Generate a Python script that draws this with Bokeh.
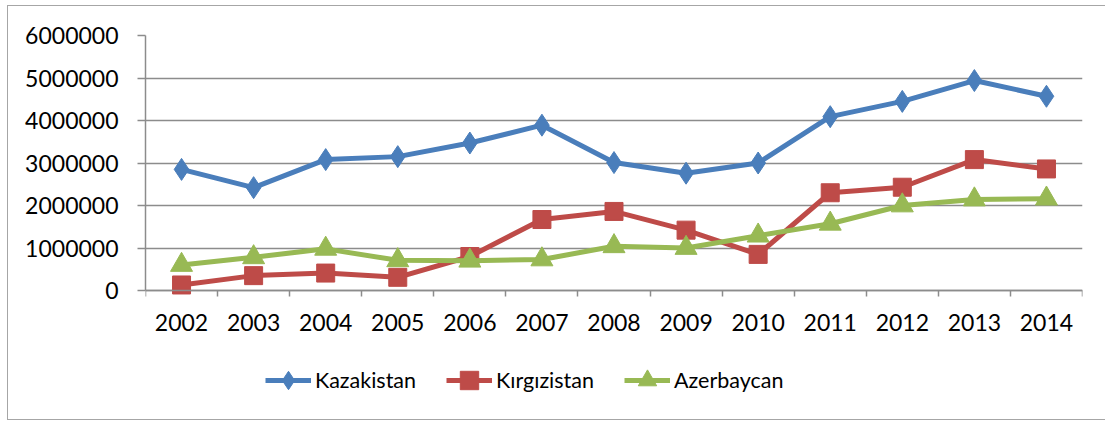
from bokeh.plotting import figure
from bokeh.models import FixedTicker, Legend, LegendItem, Range1d, NumeralTickFormatter, LinearAxis
from bokeh.embed import file_html
from bokeh.resources import INLINE

years = [2002, 2003, 2004, 2005, 2006, 2007, 2008, 2009, 2010, 2011, 2012, 2013, 2014]
year_labels = [str(y) for y in years]
kazakistan = [2850000, 2420000, 3080000, 3150000, 3470000, 3890000, 3010000, 2760000, 3000000, 4090000, 4450000, 4940000, 4570000]
kirgizistan = [130000, 350000, 410000, 310000, 800000, 1670000, 1860000, 1420000, 850000, 2300000, 2430000, 3080000, 2860000]
azerbaycan = [600000, 780000, 980000, 710000, 700000, 730000, 1040000, 1000000, 1290000, 1570000, 2000000, 2140000, 2160000]
y_ticks = [0, 1000000, 2000000, 3000000, 4000000, 5000000, 6000000]

series = [
    ("Kazakistan", kazakistan, "#4A7EBB", "diamond", 22),
    ("Kırgızistan", kirgizistan, "#BE4B48", "square", 18),
    ("Azerbaycan", azerbaycan, "#98B954", "triangle", 22),
]

FONT = "Lato"
GREY = "#8c8c8c"

# layout in pixels
W, H = 1105, 420
TOP, ZERO, BOTTOM = 35, 290, 410     # frame top (max tick), value 0, frame bottom
LEFT, RIGHT = 145, 1082
y_start = -y_ticks[-1] * (BOTTOM - ZERO) / (ZERO - TOP)

p = figure(width=W, height=H, output_backend="svg", toolbar_location=None,
           x_range=Range1d(years[0] - 0.5, years[-1] + 0.5),
           y_range=Range1d(y_start, y_ticks[-1]),
           x_axis_location=None,
           min_border_left=LEFT, min_border_right=W - RIGHT, min_border_top=TOP,
           min_border_bottom=H - BOTTOM)
p.outline_line_color = None
p.background_fill_color = None
p.border_fill_color = None
p.styles = {
    "background-image": "linear-gradient(#a6a6a6,#a6a6a6), linear-gradient(#a6a6a6,#a6a6a6), linear-gradient(#a6a6a6,#a6a6a6)",
    "background-size": "1px 415px, 1200px 1px, 1200px 1px",
    "background-position": "7px 5px, 7px 5px, 7px 419px",
    "background-repeat": "no-repeat",
}

# x axis fixed at value 0
xaxis = LinearAxis(fixed_location=0)
xaxis.ticker = FixedTicker(ticks=years, minor_ticks=[y - 0.5 for y in years] + [years[-1] + 0.5])
xaxis.major_label_overrides = {y: l for y, l in zip(years, year_labels)}
xaxis.major_tick_out = 0
xaxis.major_tick_in = 0
xaxis.minor_tick_out = 6
xaxis.minor_tick_in = 0
xaxis.minor_tick_line_color = GREY
xaxis.minor_tick_line_width = 1.5
xaxis.major_label_standoff = 17
p.add_layout(xaxis, "below")

p.yaxis.ticker = FixedTicker(ticks=y_ticks, minor_ticks=[])
p.yaxis.bounds = (y_ticks[0], y_ticks[-1])
p.yaxis.formatter = NumeralTickFormatter(format="0")
p.yaxis.major_tick_out = 8
p.yaxis.major_tick_in = 0
p.yaxis.major_tick_line_color = GREY
p.yaxis.major_tick_line_width = 1.5
p.yaxis.major_label_standoff = 19

for ax in (xaxis, p.yaxis[0]):
    ax.axis_line_color = GREY
    ax.axis_line_width = 1.5
    ax.major_label_text_font = FONT
    ax.major_label_text_font_size = "23px"
    ax.major_label_text_color = "black"

p.xgrid.grid_line_color = None
p.ygrid.ticker = FixedTicker(ticks=y_ticks)
p.ygrid.grid_line_color = GREY
p.ygrid.grid_line_width = 1.5

items = []
for name, vals, color, marker, size in series:
    lr = p.line(years, vals, line_color=color, line_width=5)
    sr = p.scatter(years, vals, marker=marker, size=size, fill_color=color, line_color=color, line_width=1)
    items.append(LegendItem(label=name, renderers=[lr, sr]))

legend = Legend(items=items, orientation="horizontal", location=(120, 2),
                glyph_width=46, glyph_height=56, label_standoff=4, spacing=30,
                padding=0, margin=0, border_line_color=None, background_fill_alpha=0,
                label_text_font=FONT, label_text_font_size="21.5px", label_text_color="black")
p.add_layout(legend, "center")

open("out.html", "w").write(file_html(p, INLINE))
